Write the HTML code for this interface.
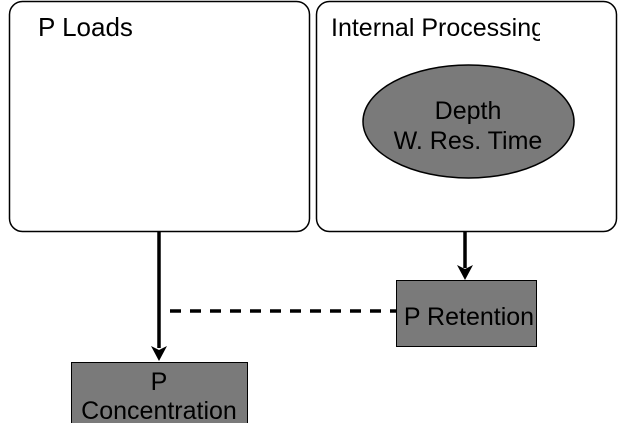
<!DOCTYPE html>
<html><head><style>body{margin:0;background:#fff}</style></head><body>
<svg width="618" height="423" xmlns="http://www.w3.org/2000/svg" font-family="Liberation Sans, sans-serif">
<defs><clipPath id="c"><rect x="316" y="0" width="224" height="60"/></clipPath></defs>
<rect x="9.5" y="1.5" width="300" height="230" rx="13" fill="#fff" stroke="#000" stroke-width="1.5"/>
<rect x="316.5" y="1.5" width="300" height="230" rx="13" fill="#fff" stroke="#000" stroke-width="1.5"/>
<text x="38" y="36" font-size="26">P Loads</text>
<text x="331" y="36" font-size="25" clip-path="url(#c)">Internal Processing</text>
<ellipse cx="468.5" cy="121.5" rx="105.5" ry="56.5" fill="#7a7a7a" stroke="#000" stroke-width="1.5"/>
<text x="468" y="119" font-size="25" text-anchor="middle">Depth</text>
<text x="468" y="149" font-size="25" text-anchor="middle">W. Res. Time</text>
<line x1="159" y1="231" x2="159" y2="348" stroke="#000" stroke-width="3.5"/>
<polygon points="151,346 159,361 167,346 159,350" fill="#000"/>
<line x1="465" y1="231" x2="465" y2="268" stroke="#000" stroke-width="3.5"/>
<polygon points="457,265 465,280 473,265 465,269" fill="#000"/>
<line x1="170" y1="311" x2="397" y2="311" stroke="#000" stroke-width="3.5" stroke-dasharray="11,9"/>
<rect x="396.5" y="280.5" width="140" height="66" fill="#7a7a7a" stroke="#000"/>
<text x="469" y="325" font-size="25" text-anchor="middle">P Retention</text>
<rect x="71.5" y="362.5" width="176" height="62" fill="#7a7a7a" stroke="#000"/>
<text x="159" y="390" font-size="25" text-anchor="middle">P</text>
<text x="159" y="419" font-size="25" text-anchor="middle">Concentration</text>
</svg>
</body></html>
